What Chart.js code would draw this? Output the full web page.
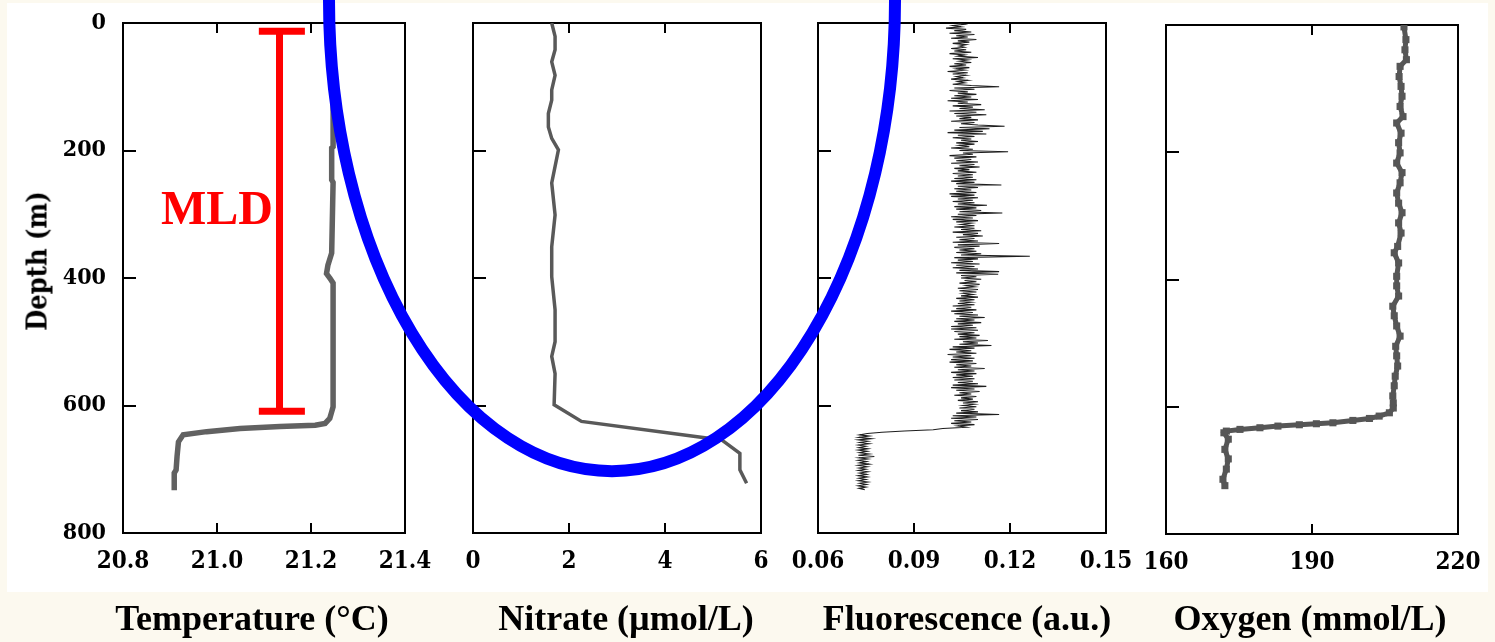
<!DOCTYPE html>
<html>
<head>
<meta charset="utf-8">
<script src="https://cdn.jsdelivr.net/npm/chart.js@4.4.1/dist/chart.umd.min.js"></script>
<style>
html,body{margin:0;padding:0;}
body{width:1495px;height:642px;background:#fcf9ef;position:relative;overflow:hidden;}
#white{position:absolute;left:7px;top:3px;width:1481px;height:589px;background:#ffffff;}
canvas{position:absolute;left:0;top:0;}
.ttl{position:absolute;font-family:"Liberation Serif","Times New Roman",serif;font-weight:bold;font-size:36px;line-height:36px;white-space:nowrap;transform:translateX(-50%);top:600px;color:#000;}
#depth{position:absolute;font-family:"DejaVu Serif Condensed","DejaVu Serif",serif;font-weight:bold;font-size:27px;line-height:27px;white-space:nowrap;left:37px;top:261px;transform:translate(-50%,-50%) rotate(-90deg);color:#000;}
#mld{position:absolute;color:#ff0000;font-family:"Liberation Serif","Times New Roman",serif;font-weight:bold;font-size:48px;line-height:48px;left:217px;top:184px;transform:translateX(-50%);white-space:nowrap;}
</style>
</head>
<body>
<div id="white"></div>
<canvas id="cTemp" width="1495" height="642"></canvas>
<canvas id="cFluor" width="1495" height="642"></canvas>
<canvas id="cOxy" width="1495" height="642"></canvas>
<canvas id="cNit" width="1495" height="642"></canvas>
<div id="depth">Depth (m)</div>
<div id="mld">MLD</div>
<div class="ttl" style="left:252px">Temperature (°C)</div>
<div class="ttl" style="left:626px">Nitrate (µmol/L)</div>
<div class="ttl" style="left:967px">Fluorescence (a.u.)</div>
<div class="ttl" style="left:1310px">Oxygen (mmol/L)</div>
<script>
// ---------- tick values & labels ----------
const depthTicks = [0, 200, 400, 600, 800];
const depthTickLabels = ['0', '200', '400', '600', '800'];
const tempTicks = [20.8, 21.0, 21.2, 21.4];
const tempTickLabels = ['20.8', '21.0', '21.2', '21.4'];
const nitrateTicks = [0, 2, 4, 6];
const nitrateTickLabels = ['0', '2', '4', '6'];
const fluorTicks = [0.06, 0.09, 0.12, 0.15];
const fluorTickLabels = ['0.06', '0.09', '0.12', '0.15'];
const oxyTicks = [160, 190, 220];
const oxyTickLabels = ['160', '190', '220'];

// ---------- temperature profile ----------
const tempDepth = [0, 60, 126, 194, 196, 246, 250, 361, 380, 393, 400, 408, 602, 610, 620, 628, 631, 633, 636, 641, 646, 657, 680, 701, 706, 733];
const tempValues = [21.236, 21.240, 21.247, 21.247, 21.244, 21.244, 21.247, 21.244, 21.236, 21.233, 21.240, 21.247, 21.247, 21.244, 21.240, 21.230, 21.209, 21.134, 21.049, 20.978, 20.928, 20.918, 20.915, 20.913, 20.909, 20.909];

// ---------- mixed layer depth marker ----------
const mldDepth = [13, 609];
const mldTemp = [21.133];
const mldCap = [21.089, 21.187];

// ---------- nitrate profile ----------
const nitrateDepth = [0, 21, 42, 61, 82, 105, 121, 142, 163, 181, 199, 251, 301, 351, 398, 450, 500, 523, 550, 599, 625, 654, 675, 701, 722];
const nitrateValues = [1.64, 1.71, 1.71, 1.64, 1.71, 1.64, 1.64, 1.57, 1.57, 1.64, 1.78, 1.64, 1.71, 1.64, 1.64, 1.71, 1.71, 1.64, 1.71, 1.69, 2.26, 5.18, 5.56, 5.56, 5.70];

// ---------- highlight ellipse (nitrate panel units) ----------
const ellipseCenter = [2.896, -36];
const ellipseRadius = [5.896, 739];

// ---------- fluorescence profile ----------
const fluorDepth = [
  0, 2, 4, 6, 8, 10, 12, 14, 16, 18, 20, 22, 24, 26, 28, 30, 32, 34, 36, 38,
  40, 42, 44, 46, 48, 50, 52, 54, 56, 58, 60, 62, 64, 66, 68, 70, 72, 74, 76, 78,
  80, 82, 84, 86, 88, 90, 92, 94, 96, 98, 100, 102, 104, 106, 108, 110, 112, 114, 116, 118,
  120, 122, 124, 126, 128, 130, 132, 134, 136, 138, 140, 142, 144, 146, 148, 150, 152, 154, 156, 158,
  160, 162, 164, 166, 168, 170, 172, 174, 176, 178, 180, 182, 184, 186, 188, 190, 192, 194, 196, 198,
  200, 202, 204, 206, 208, 210, 212, 214, 216, 218, 220, 222, 224, 226, 228, 230, 232, 234, 236, 238,
  240, 242, 244, 246, 248, 250, 252, 254, 256, 258, 260, 262, 264, 266, 268, 270, 272, 274, 276, 278,
  280, 282, 284, 286, 288, 290, 292, 294, 296, 298, 300, 302, 304, 306, 308, 310, 312, 314, 316, 318,
  320, 322, 324, 326, 328, 330, 332, 334, 336, 338, 340, 342, 344, 346, 348, 350, 352, 354, 356, 358,
  360, 362, 364, 366, 368, 370, 372, 374, 376, 378, 380, 382, 384, 386, 388, 390, 392, 394, 396, 398,
  400, 402, 404, 406, 408, 410, 412, 414, 416, 418, 420, 422, 424, 426, 428, 430, 432, 434, 436, 438,
  440, 442, 444, 446, 448, 450, 452, 454, 456, 458, 460, 462, 464, 466, 468, 470, 472, 474, 476, 478,
  480, 482, 484, 486, 488, 490, 492, 494, 496, 498, 500, 502, 504, 506, 508, 510, 512, 514, 516, 518,
  520, 522, 524, 526, 528, 530, 532, 534, 536, 538, 540, 542, 544, 546, 548, 550, 552, 554, 556, 558,
  560, 562, 564, 566, 568, 570, 572, 574, 576, 578, 580, 582, 584, 586, 588, 590, 592, 594, 596, 598,
  600, 602, 604, 606, 608, 610, 612, 614, 616, 618, 620, 622, 624, 626, 628, 630, 632, 634, 636, 638,
  640, 642, 644,
  646, 648, 650, 652, 654, 656, 658, 660, 662, 664, 666, 668, 670, 672, 674, 676, 678, 680, 682, 684,
  686, 688, 690, 692, 694, 696, 698, 700, 702, 704, 706, 708, 710, 712, 714, 716, 718, 720, 722, 724,
  726, 728, 730, 732
];
const fluorValues = [
  0.1037, 0.1058, 0.1021, 0.1047, 0.1000, 0.1063, 0.1026, 0.1079, 0.1011, 0.1089, 0.1032, 0.1068, 0.1016, 0.1095, 0.1037, 0.1073, 0.1021, 0.1063, 0.1042, 0.1058,
  0.1016, 0.1063, 0.1026, 0.1079, 0.1011, 0.1058, 0.1037, 0.1100, 0.1021, 0.1068, 0.1042, 0.1079, 0.1026, 0.1063, 0.1011, 0.1073, 0.1032, 0.1058, 0.1005, 0.1068,
  0.1021, 0.1063, 0.1032, 0.1053, 0.1016, 0.1068, 0.1037, 0.1058, 0.1021, 0.1079, 0.1166, 0.1026, 0.1089, 0.1011, 0.1068, 0.1037, 0.1095, 0.1026, 0.1079, 0.1016,
  0.1100, 0.1005, 0.1068, 0.1037, 0.1110, 0.1021, 0.1084, 0.1042, 0.1121, 0.1011, 0.1095, 0.1026, 0.1126, 0.1032, 0.1079, 0.1042, 0.1100, 0.1016, 0.1089, 0.1047,
  0.1100, 0.1183, 0.1042, 0.1136, 0.1026, 0.1115, 0.1005, 0.1126, 0.1037, 0.1089, 0.1021, 0.1079, 0.1047, 0.1100, 0.1032, 0.1089, 0.1042, 0.1073, 0.1016, 0.1084,
  0.1042, 0.1194, 0.1053, 0.1084, 0.1011, 0.1095, 0.1026, 0.1079, 0.1032, 0.1100, 0.1016, 0.1089, 0.1042, 0.1105, 0.1026, 0.1073, 0.1037, 0.1095, 0.1021, 0.1084,
  0.1037, 0.1084, 0.1026, 0.1095, 0.1016, 0.1089, 0.1032, 0.1173, 0.1037, 0.1100, 0.1026, 0.1079, 0.1032, 0.1095, 0.1011, 0.1089, 0.1016, 0.1100, 0.1037, 0.1084,
  0.1021, 0.1089, 0.1037, 0.1128, 0.1026, 0.1095, 0.1032, 0.1110, 0.1042, 0.1176, 0.1037, 0.1095, 0.1016, 0.1084, 0.1021, 0.1100, 0.1032, 0.1079, 0.1047, 0.1089,
  0.1026, 0.1089, 0.1047, 0.1110, 0.1021, 0.1100, 0.1053, 0.1115, 0.1032, 0.1089, 0.1042, 0.1100, 0.1021, 0.1166, 0.1037, 0.1105, 0.1026, 0.1089, 0.1042, 0.1095,
  0.1032, 0.1110, 0.1047, 0.1262, 0.1026, 0.1100, 0.1037, 0.1084, 0.1016, 0.1105, 0.1032, 0.1089, 0.1021, 0.1100, 0.1042, 0.1166, 0.1032, 0.1163, 0.1047, 0.1095,
  0.1047, 0.1110, 0.1058, 0.1095, 0.1042, 0.1105, 0.1063, 0.1089, 0.1037, 0.1100, 0.1042, 0.1095, 0.1053, 0.1084, 0.1047, 0.1100, 0.1032, 0.1089, 0.1042, 0.1079,
  0.1037, 0.1089, 0.1021, 0.1079, 0.1032, 0.1095, 0.1016, 0.1084, 0.1026, 0.1100, 0.1042, 0.1121, 0.1032, 0.1089, 0.1026, 0.1110, 0.1037, 0.1084, 0.1016, 0.1095,
  0.1016, 0.1100, 0.1026, 0.1089, 0.1037, 0.1105, 0.1042, 0.1095, 0.1026, 0.1131, 0.1053, 0.1100, 0.1042, 0.1142, 0.1021, 0.1089, 0.1011, 0.1079, 0.1032, 0.1095,
  0.1005, 0.1079, 0.1021, 0.1089, 0.1016, 0.1084, 0.1011, 0.1095, 0.1032, 0.1079, 0.1026, 0.1121, 0.1037, 0.1089, 0.1016, 0.1095, 0.1032, 0.1084, 0.1021, 0.1089,
  0.1026, 0.1084, 0.1037, 0.1100, 0.1021, 0.1126, 0.1016, 0.1089, 0.1032, 0.1105, 0.1042, 0.1079, 0.1026, 0.1095, 0.1047, 0.1084, 0.1037, 0.1100, 0.1053, 0.1089,
  0.1053, 0.1095, 0.1042, 0.1089, 0.1047, 0.1100, 0.1032, 0.1166, 0.1021, 0.1095, 0.1016, 0.1100, 0.1026, 0.1079, 0.1016, 0.1089, 0.1037, 0.1063, 0.0990, 0.0960,
  0.0870, 0.0800, 0.0754,
  0.0730, 0.0760, 0.0728, 0.0766, 0.0726, 0.0756, 0.0730, 0.0760, 0.0726, 0.0750, 0.0728, 0.0756, 0.0726, 0.0754, 0.0730, 0.0760, 0.0726, 0.0776, 0.0728, 0.0756,
  0.0726, 0.0752, 0.0730, 0.0760, 0.0726, 0.0754, 0.0728, 0.0750, 0.0726, 0.0756, 0.0730, 0.0752, 0.0726, 0.0754, 0.0728, 0.0750, 0.0726, 0.0756, 0.0730, 0.0752,
  0.0726, 0.0750, 0.0728, 0.0746
];

// ---------- oxygen profile ----------
const oxyDepth = [3, 23, 39, 54.5, 65, 81, 96.5, 112, 128, 144, 154, 170, 185, 201, 217, 232, 248, 264, 280, 295, 311, 327, 348, 358, 374, 395, 410, 426, 442, 457, 473, 489, 505, 520, 536, 552, 567, 583, 594, 602, 609.5, 614.7, 618.4, 621.5, 625.2, 626.7, 628.3, 630.4, 633, 635.6, 638.3, 640.9, 651, 667, 682, 698, 714, 724];
const oxyValues = [208.9, 209.3, 209.1, 209.4, 208.1, 207.9, 208.3, 208.5, 208.1, 208.7, 207.4, 208.3, 207.8, 208.1, 207.4, 208.5, 208.1, 207.4, 207.8, 208.5, 207.8, 208.3, 207.6, 206.9, 207.8, 207.4, 207.4, 207.8, 206.6, 206.9, 207.4, 208.1, 207.2, 207.4, 207.6, 207.1, 206.9, 206.6, 206.7, 206.7, 205.9, 203.8, 201.8, 198.4, 194.3, 190.9, 187.4, 183.0, 179.3, 175.2, 172.4, 171.9, 172.8, 172.1, 172.8, 172.4, 171.7, 172.1];

// ---------- panel placement (plot-area rectangles, pixels) ----------
const W = 1495, H = 642;
const Y_AXIS_W = 100, X_AXIS_H = 50;
const panels = {
  temp:  {left: 123,  right: 405,  top: 23, bottom: 533},
  nit:   {left: 473,  right: 761,  top: 23, bottom: 533},
  fluor: {left: 818,  right: 1106, top: 23, bottom: 533},
  oxy:   {left: 1166, right: 1458, top: 25, bottom: 534}
};

const tickFontX = {family: "'DejaVu Serif Condensed', 'DejaVu Serif', serif", weight: 'bold', size: 24};
const tickFontY = {family: "'DejaVu Serif Condensed', 'DejaVu Serif', serif", weight: 'bold', size: 23};

const framePlugin = {
  id: 'frame',
  beforeDatasetsDraw(chart) {
    const {ctx, chartArea: a, scales: {x, y}} = chart;
    ctx.save();
    ctx.strokeStyle = '#000';
    ctx.lineWidth = 2;
    ctx.strokeRect(a.left, a.top, a.right - a.left, a.bottom - a.top);
    ctx.beginPath();
    x.ticks.forEach(t => {
      if (t.value === x.min || t.value === x.max) return;
      const px = Math.round(x.getPixelForValue(t.value));
      ctx.moveTo(px, a.bottom); ctx.lineTo(px, a.bottom - 10);
      ctx.moveTo(px, a.top); ctx.lineTo(px, a.top + 10);
    });
    y.ticks.forEach(t => {
      if (t.value === y.min || t.value === y.max) return;
      const py = Math.round(y.getPixelForValue(t.value));
      ctx.moveTo(a.left, py); ctx.lineTo(a.left + 13, py);
    });
    ctx.stroke();
    ctx.restore();
  }
};

const ellipsePlugin = {
  id: 'ellipse',
  afterDraw(chart) {
    const {ctx, scales: {x, y}} = chart;
    const cx = x.getPixelForValue(ellipseCenter[0]);
    const cy = y.getPixelForValue(ellipseCenter[1]);
    const rx = Math.abs(x.getPixelForValue(ellipseCenter[0] + ellipseRadius[0]) - cx);
    const ry = Math.abs(y.getPixelForValue(ellipseCenter[1] + ellipseRadius[1]) - cy);
    ctx.save();
    ctx.beginPath();
    ctx.ellipse(cx, cy, rx, ry, 0, 0, Math.PI);
    ctx.strokeStyle = '#0000ff';
    ctx.lineWidth = 12;
    ctx.stroke();
    ctx.restore();
  }
};

function pts(xs, ys) { return xs.map((v, i) => ({x: v, y: ys[i]})); }

function makeChart(id, panel, xTicks, xLabels, showY, datasets, extraPlugins) {
  return new Chart(document.getElementById(id), {
    type: 'scatter',
    data: {datasets},
    plugins: [framePlugin].concat(extraPlugins || []),
    options: {
      responsive: false,
      animation: false,
      devicePixelRatio: 1,
      events: [],
      layout: {padding: {left: panel.left - Y_AXIS_W, top: panel.top, right: W - panel.right, bottom: H - panel.bottom - X_AXIS_H}},
      plugins: {legend: {display: false}, tooltip: {enabled: false}},
      scales: {
        x: {
          type: 'linear', position: 'bottom',
          min: xTicks[0], max: xTicks[xTicks.length - 1],
          afterBuildTicks: s => { s.ticks = xTicks.map(v => ({value: v})); },
          afterFit: s => { s.height = X_AXIS_H; s.paddingLeft = 0; s.paddingRight = 0; },
          grid: {display: false, drawTicks: false},
          border: {display: false},
          ticks: {callback: (v, i) => xLabels[i], font: tickFontX, color: '#000', padding: 14, maxRotation: 0, autoSkip: false}
        },
        y: {
          type: 'linear', position: 'left', reverse: true,
          min: depthTicks[0], max: depthTicks[depthTicks.length - 1],
          afterBuildTicks: s => { s.ticks = depthTicks.map(v => ({value: v})); },
          afterFit: s => { s.width = Y_AXIS_W; s.paddingTop = 0; s.paddingBottom = 0; },
          grid: {display: false, drawTicks: false},
          border: {display: false},
          ticks: {display: showY, callback: (v, i) => depthTickLabels[i], font: tickFontY, color: '#000', padding: 17, autoSkip: false}
        }
      }
    }
  });
}

const lineDs = (data, color, width) => ({data, showLine: true, borderColor: color, borderWidth: width, pointRadius: 0, tension: 0, fill: false});

makeChart('cTemp', panels.temp, tempTicks, tempTickLabels, true, [
  lineDs(pts(mldTemp.concat(mldTemp), mldDepth), '#ff0000', 7),
  lineDs(pts(mldCap, [mldDepth[0], mldDepth[0]]), '#ff0000', 7),
  lineDs(pts(mldCap, [mldDepth[1], mldDepth[1]]), '#ff0000', 7),
  lineDs(pts(tempValues, tempDepth), '#616161', 5.5)
]);

makeChart('cFluor', panels.fluor, fluorTicks, fluorTickLabels, false, [
  lineDs(pts(fluorValues, fluorDepth), '#1e1e1e', 1.1)
]);

const oxyDs = lineDs(pts(oxyValues, oxyDepth), '#565656', 5);
oxyDs.pointRadius = 5; oxyDs.pointStyle = 'rect'; oxyDs.pointBackgroundColor = '#565656'; oxyDs.pointBorderWidth = 0;
makeChart('cOxy', panels.oxy, oxyTicks, oxyTickLabels, false, [oxyDs]);

makeChart('cNit', panels.nit, nitrateTicks, nitrateTickLabels, false, [
  lineDs(pts(nitrateValues, nitrateDepth), '#595959', 3.5)
], [ellipsePlugin]);
</script>
</body>
</html>
